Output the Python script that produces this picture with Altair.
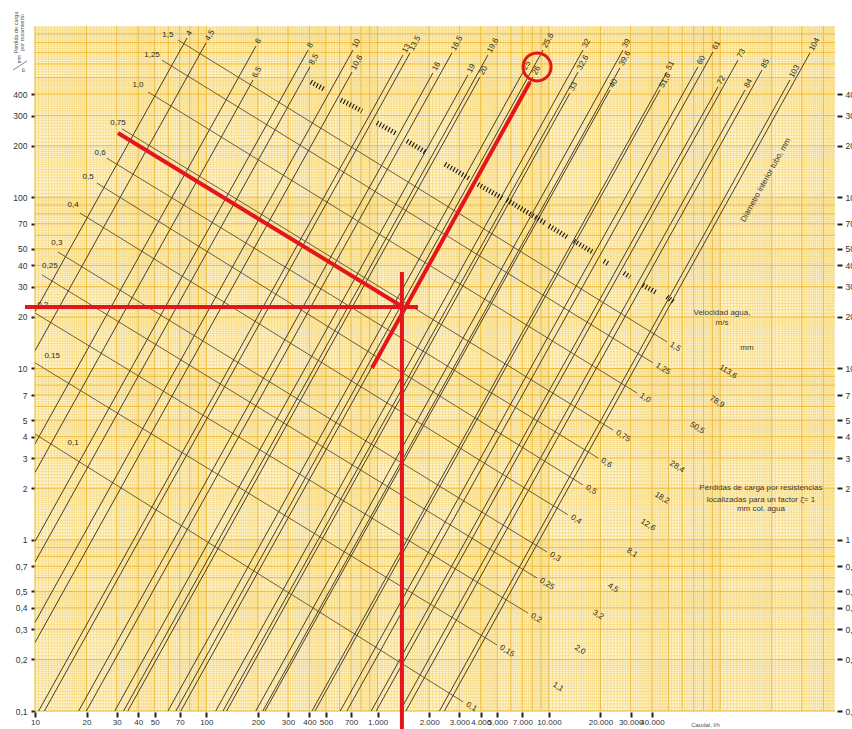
import altair as alt
import pandas as pd

# Plot ranges: flow (l/h) on x, friction loss (mm/m) on y, both logarithmic
XMIN, XMAX = 10, 468000
YMIN, YMAX = 0.1, 1000

# Friction lines, one per inner pipe diameter (mm): upper and lower end points
diam_labels = ["4", "4,5", "6", "6,5", "8", "8,5", "10", "10,6", "13", "13,5", "16", "16,5",
               "19", "19,6", "20", "25", "25,6", "26", "32", "32,6", "33", "39", "39,6", "40",
               "51", "51,6", "60", "61", "72", "73", "84", "85", "103", "104"]
diam_q_top = [77.2, 99.6, 195, 187.5, 393, 403, 718, 709, 1406, 1545, 2104, 2716,
              3371, 4407, 3963, 7063, 9247, 8075, 15810, 14790, 13270, 27100, 26000, 22750,
              48870, 44540, 74130, 90700, 97000, 127000, 139600, 175400, 255400, 334200]
diam_j_top = [851, 796, 764, 484, 724, 577, 724, 538, 677, 696, 532, 696,
              518, 677, 504, 538, 724, 504, 724, 538, 406, 724, 569, 423,
              538, 423, 577, 705, 441, 632, 423, 553, 484, 696]
diam_q_low = [10, 10, 10, 10, 10, 10, 10, 10, 10.5, 11.35, 17.97, 19.95,
              29.2, 32.9, 34.8, 59.7, 66.4, 71.0, 113.5, 125.2, 131.5, 194.5, 213.8, 220.3,
              414, 431, 605, 662, 918, 982, 1352, 1462, 2296, 2455]
diam_j_low = [21.5, 12.7, 3.63, 2.47, 0.978, 0.741, 0.329, 0.251, 0.1, 0.1, 0.1, 0.1,
              0.1, 0.1, 0.1, 0.1, 0.1, 0.1, 0.1, 0.1, 0.1, 0.1, 0.1, 0.1,
              0.1, 0.1, 0.1, 0.1, 0.1, 0.1, 0.1, 0.1, 0.1, 0.1]

# Water velocity lines (m/s)
vel_labels = ["1,5", "1,25", "1,0", "0,75", "0,6", "0,5", "0,4", "0,3", "0,25", "0,2", "0,15", "0,1"]
vel_q_start = [68.4, 55.1, 45.7, 32.2, 26.3, 23.0, 18.3, 13.6, 11.0, 10, 10, 10]
vel_j_start = [828, 632, 412, 251, 169, 121, 80.9, 47.9, 35.2, 21.1, 10.8, 4.14]
vel_q_end = [48900, 40500, 32700, 23700, 19400, 15800, 12900, 9750, 8510, 7550, 4980, 3160]
vel_j_end = [14.3, 10.8, 7.19, 4.37, 3.0, 2.09, 1.40, 0.848, 0.598, 0.373, 0.243, 0.113]
# where the velocity names sit at the left end of each line
vel_lab_q = [59.7, 48.2, 39.9, 30.5, 24.0, 20.4, 16.7, 13.4, 12.2, 11.1, 12.6, 16.7]
vel_lab_j = [886, 677, 452, 272, 181, 131, 90.2, 54.1, 39.7, 23.5, 11.8, 3.67]

# Local losses for a resistance factor of 1 (mm water column), next to each velocity
loss_labels = ["113,6", "78,9", "50,5", "28,4", "18,2", "12,6", "8,1", "4,5", "3,2", "2,0", "1,1"]
loss_q = [111000, 95700, 73300, 55980, 45700, 37880, 30550, 23660, 19350, 15190, 11300]
loss_j = [9.55, 6.37, 4.49, 2.66, 1.75, 1.22, 0.837, 0.523, 0.364, 0.227, 0.138]

# Hatched stretches of the limit line between the pipe groups
hatch_q1 = [408, 611, 992, 1485, 2475, 3855, 5692, 10010, 14010, 20970, 27440, 35400, 48920]
hatch_j1 = [471, 370, 272, 213, 156, 119, 96.4, 68.0, 55.5, 42.4, 36.1, 30.7, 26.2]
hatch_q2 = [486, 811, 1297, 1893, 3459, 5320, 9484, 12760, 18330, 22440, 29740, 42750, 53700]
hatch_j2 = [428, 319, 234, 184, 128, 99.0, 70.8, 58.6, 47.3, 40.7, 34.2, 27.6, 24.4]

# Worked example drawn in red
red_q1 = [8.74, 1387, 30.5, 927]
red_j1 = [22.9, 36.6, 237, 10.07]
red_q2 = [1722, 1387, 1445, 7760]
red_j2 = [22.9, 0.0785, 22.5, 471]
red_circle_q = [8530]
red_circle_j = [577]

# Free text inside the plot
note_text = ["Velocidad agua,", "m/s", "mm", "Pérdidas de carga por resistencias",
             "localizadas para un factor ζ= 1", "mm col. agua"]
note_q = [102400, 102400, 143400, 173000, 173000, 173000]
note_j = [21.1, 18.4, 13.2, 2.00, 1.71, 1.51]
diam_title = ["Diametro interior tubo, mm"]
diam_title_q = [184900]
diam_title_j = [126]

# Axis tick values
x_ticks = [10, 20, 30, 40, 50, 70, 100, 200, 300, 400, 500, 700, 1000, 2000, 3000, 4000,
           5000, 7000, 10000, 20000, 30000, 40000]
y_ticks = [0.1, 0.2, 0.3, 0.4, 0.5, 0.7, 1, 2, 3, 4, 5, 7, 10, 20, 30, 40, 50, 70, 100, 200, 300, 400]

# Log graph-paper rulings
mant_fine = ([1 + 0.05 * i for i in range(20)] + [2 + 0.1 * i for i in range(30)]
             + [5 + 0.2 * i for i in range(25)])
mant_major = [1, 2, 3, 4, 5, 6, 7, 8, 9]
gx_fine = [m * 10 ** k for k in range(1, 6) for m in mant_fine if m * 10 ** k <= XMAX]
gy_fine = [m * 10.0 ** k for k in range(-1, 3) for m in mant_fine]
gx_major = [m * 10 ** k for k in range(1, 6) for m in mant_major if m * 10 ** k <= XMAX]
gy_major = [m * 10.0 ** k for k in range(-1, 3) for m in mant_major]

FONT = "Liberation Sans"
INK = "#2e2a22"
RED = "#E3161B"


def xs():
    return alt.Scale(type="log", domain=[XMIN, XMAX], nice=False)


def ys():
    return alt.Scale(type="log", domain=[YMIN, YMAX], nice=False)


def X(field):
    return alt.X(field, type="quantitative", scale=xs(), axis=None)


def Y(field):
    return alt.Y(field, type="quantitative", scale=ys(), axis=None)


diam_df = pd.DataFrame({"d": diam_labels, "q1": diam_q_low, "j1": diam_j_low,
                        "q2": diam_q_top, "j2": diam_j_top})
vel_df = pd.DataFrame({"v": vel_labels, "q1": vel_q_start, "j1": vel_j_start,
                       "q2": vel_q_end, "j2": vel_j_end, "lq": vel_lab_q, "lj": vel_lab_j})
loss_df = pd.DataFrame({"t": loss_labels, "q": loss_q, "j": loss_j})
hatch_df = pd.DataFrame({"q1": hatch_q1, "j1": hatch_j1, "q2": hatch_q2, "j2": hatch_j2})
red_df = pd.DataFrame({"q1": red_q1, "j1": red_j1, "q2": red_q2, "j2": red_j2})
circ_df = pd.DataFrame({"q": red_circle_q, "j": red_circle_j})
note_df = pd.DataFrame({"t": note_text, "q": note_q, "j": note_j})
dtitle_df = pd.DataFrame({"t": diam_title, "q": diam_title_q, "j": diam_title_j})

# graph paper
grid_vf = alt.Chart(pd.DataFrame({"v": gx_fine})).mark_rule(
    color="#F5D36A", strokeWidth=0.6).encode(x=X("v"))
grid_hf = alt.Chart(pd.DataFrame({"v": gy_fine})).mark_rule(
    color="#F5D36A", strokeWidth=0.6).encode(y=Y("v"))
grid_vm = alt.Chart(pd.DataFrame({"v": gx_major})).mark_rule(
    color="#EDB937", strokeWidth=0.9).encode(x=X("v"))
grid_hm = alt.Chart(pd.DataFrame({"v": gy_major})).mark_rule(
    color="#EDB937", strokeWidth=0.9).encode(y=Y("v"))

# friction lines per diameter
diam_lines = alt.Chart(diam_df).mark_rule(color=INK, strokeWidth=0.9, clip=True).encode(
    x=X("q1"), y=Y("j1"), x2="q2", y2="j2")
diam_text = alt.Chart(diam_df).mark_text(
    angle=299, align="left", baseline="middle", dx=3, fontSize=8, font=FONT, color=INK
).encode(x=X("q2"), y=Y("j2"), text="d:N")

# velocity lines
vel_lines = alt.Chart(vel_df).mark_rule(color="#4a3d26", strokeWidth=0.8, clip=True).encode(
    x=X("q1"), y=Y("j1"), x2="q2", y2="j2")
vel_text_left = alt.Chart(vel_df).mark_text(
    align="center", baseline="middle", fontSize=8, font=FONT, color=INK
).encode(x=X("lq"), y=Y("lj"), text="v:N")
vel_text_right = alt.Chart(vel_df).mark_text(
    angle=32, align="left", baseline="middle", dx=4, fontSize=8, font=FONT, color=INK
).encode(x=X("q2"), y=Y("j2"), text="v:N")

loss_text = alt.Chart(loss_df).mark_text(
    angle=32, align="center", baseline="middle", fontSize=8, font=FONT, color=INK
).encode(x=X("q"), y=Y("j"), text="t:N")

hatch = alt.Chart(hatch_df).mark_rule(
    color="#111111", strokeWidth=5, strokeDash=[1.1, 2.2]
).encode(x=X("q1"), y=Y("j1"), x2="q2", y2="j2")

notes = alt.Chart(note_df).mark_text(
    align="center", baseline="middle", fontSize=8, font=FONT, color="#3a3a3a"
).encode(x=X("q"), y=Y("j"), text="t:N")
dtitle = alt.Chart(dtitle_df).mark_text(
    angle=299, align="center", baseline="middle", fontSize=8, font=FONT, color="#3a3a3a"
).encode(x=X("q"), y=Y("j"), text="t:N")

# axes
x_label_expr = ("datum.value >= 1000 ? format(datum.value / 1000, 'd') + '.000' "
                ": format(datum.value, 'd')")
y_label_expr = ("datum.value < 1 ? '0,' + format(datum.value * 10, '.0f') "
                ": format(datum.value, 'd')")

x_axis_layer = alt.Chart(pd.DataFrame({"v": x_ticks})).mark_rule(opacity=0).encode(
    x=alt.X("v:Q", scale=xs(), axis=alt.Axis(
        orient="bottom", values=x_ticks, labelExpr=x_label_expr, domain=False, grid=False,
        tickSize=5, tickWidth=2, tickColor="#222", offset=1,
        labelFontSize=8, labelFont=FONT, labelColor="#333", labelPadding=1,
        labelFlush=False, labelOverlap=False, labelBound=False,
        title="Caudal, l/h", titleFont=FONT, titleFontSize=6, titleFontWeight="normal",
        titleColor="#555", titleX=670, titleY=12, titleAlign="center", titleBaseline="middle")))

left_axis_layer = alt.Chart(pd.DataFrame({"v": y_ticks})).mark_rule(opacity=0).encode(
    y=alt.Y("v:Q", scale=ys(), axis=alt.Axis(
        orient="left", values=y_ticks, labelExpr=y_label_expr, domain=False, grid=False,
        tickSize=4, tickWidth=2, tickColor="#222",
        labelFontSize=8.5, labelFont=FONT, labelColor="#333", labelPadding=4,
        labelFlush=False, labelOverlap=False, labelBound=False,
        title=["Pérdida de carga", "por rozamiento"], titleFont=FONT, titleFontSize=5.5,
        titleFontWeight="normal", titleColor="#555", titleAngle=270, titleX=-20, titleY=6,
        titleAlign="center", titleBaseline="middle", titleLineHeight=6.5)))

right_axis_layer = alt.Chart(pd.DataFrame({"v": y_ticks})).mark_rule(opacity=0).encode(
    y=alt.Y("v:Q", scale=ys(), axis=alt.Axis(
        orient="right", values=y_ticks, labelExpr=y_label_expr, domain=False, grid=False,
        tickSize=5, tickWidth=2, tickColor="#222", offset=2,
        labelFontSize=8.5, labelFont=FONT, labelColor="#333", labelPadding=3,
        labelFlush=False, labelOverlap=False, labelBound=False, title=None)))

# unit sign of the y axis (mm / m)
unit_mm = alt.Chart(pd.DataFrame({"t": ["mm"]})).mark_text(
    angle=270, fontSize=5, font=FONT, color="#555", align="center", baseline="middle"
).encode(x=alt.value(-16), y=alt.value(33), text="t:N")
unit_m = alt.Chart(pd.DataFrame({"t": ["m"]})).mark_text(
    angle=270, fontSize=5, font=FONT, color="#555", align="center", baseline="middle"
).encode(x=alt.value(-12), y=alt.value(44), text="t:N")
unit_slash = alt.Chart(pd.DataFrame({"t": [0]})).mark_rule(color="#555", strokeWidth=0.7).encode(
    x=alt.value(-22), y=alt.value(44), x2=alt.value(-8), y2=alt.value(35))

# worked example
red_lines = alt.Chart(red_df).mark_rule(color=RED, strokeWidth=4).encode(
    x=X("q1"), y=Y("j1"), x2="q2", y2="j2")
red_circle = alt.Chart(circ_df).mark_point(
    shape="circle", filled=False, size=784, strokeWidth=3, color=RED, opacity=1
).encode(x=X("q"), y=Y("j"))

chart = alt.layer(
    grid_vf, grid_hf, grid_vm, grid_hm,
    diam_lines, vel_lines, hatch,
    diam_text, vel_text_left, vel_text_right, loss_text, notes, dtitle,
    x_axis_layer, left_axis_layer, right_axis_layer,
    unit_mm, unit_m, unit_slash,
    red_lines, red_circle,
).resolve_axis(
    x="independent", y="independent"
).properties(
    width=800, height=685,
    padding={"left": 35, "top": 26, "right": 17, "bottom": 18},
    autosize=alt.AutoSizeParams(type="none"),
).configure(font=FONT).configure_view(fill="#FEF4D4", stroke=None)

chart.save("out.html", embed_options={"renderer": "svg", "actions": False})
